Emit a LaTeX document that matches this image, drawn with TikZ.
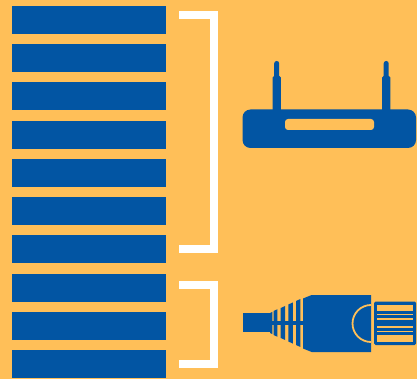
\documentclass[tikz,border=0pt]{standalone}
\usepackage{tikz}
\usetikzlibrary{positioning,calc}
\definecolor{bgorange}{HTML}{FFBF58}
\definecolor{barblue}{HTML}{0255A3}
\begin{document}
\begin{tikzpicture}[x=1pt,y=-1pt,
  bar/.style={fill=barblue,minimum width=154pt,minimum height=28pt,inner sep=0pt,outer sep=0pt,anchor=north west},
  brace/.style={draw=white,line width=8pt,miter limit=10},
  part/.style={fill=barblue,draw=none},
  cut/.style={fill=bgorange,draw=none}]
\fill[bgorange] (0,0) rectangle (417,379);
\useasboundingbox (0,0) rectangle (417,379);
\foreach \n/\y in {1/6,2/44,3/82,4/121,5/159,6/197,7/235,8/274,9/312,10/350}
  \node[bar] (b\n) at (12,\y) {};
% brackets
\coordinate (ta) at (179,15);
\coordinate (tb) at (179,249);
\coordinate (tc) at (179,285);
\coordinate (td) at (179,364);
\draw[brace] (ta)--(214,15)--(214,249)--(tb);
\draw[brace] (tc)--(214,285)--(214,364)--(td);
% router
\fill[part,rounded corners=8pt] (242.5,109.5) rectangle (416,148);
\fill[cut,rounded corners=3pt] (285,119) rectangle (374,130);
\foreach \x in {276.7,386.2} {
  \fill[part,rounded corners=2.4pt] (\x-2.5,61) rectangle (\x+2.5,82);
  \fill[part,rounded corners=1.5pt] (\x-4.2,76) rectangle (\x+4.2,112);
}
% plug
\fill[part] (242.5,313.3) rectangle (270,332);
\fill[part] (270,320.6) rectangle (304,325.4);
\foreach \x/\ya/\yb in {270/272.4/313,273.5/277.4/311,280.7/285.2/308,288.3/292.9/304.5,296/300.4/301} {
  \fill[part] (\x,\yb) -- (\ya,{\yb-(\ya-\x)*0.45}) -- (\ya,{646-\yb+(\ya-\x)*0.45}) -- (\x,{646-\yb}) -- cycle;
}
\fill[part] (303,298.5)--(311.7,295)--(371,295)--(371,352)--(311.7,352)--(303,348.5)--cycle;
\draw[bgorange,line width=1.8pt] (371,305) arc[start angle=-90,end angle=-270,radius=18.5];
\fill[part,rounded corners=1.5pt] (374,301.5) rectangle (416,345);
\foreach \ya/\yb in {304.7/311,314/315.2,318/320,325.7/327.7,330.7/331.8,335/342.3}
  \fill[cut] (377,\ya) rectangle (413.3,\yb);
\end{tikzpicture}
\end{document}
